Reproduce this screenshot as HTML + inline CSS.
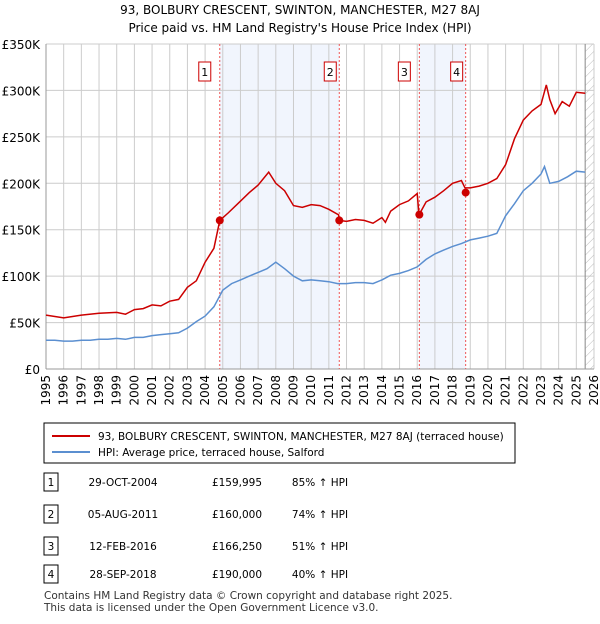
<!DOCTYPE html>
<html><head><meta charset="utf-8"><style>
body{margin:0;background:#fff;font-family:"DejaVu Sans","Liberation Sans",sans-serif;}
</style></head><body>
<svg width="600" height="620" xmlns="http://www.w3.org/2000/svg" font-family="DejaVu Sans, Liberation Sans, sans-serif" id="chart">
<text x="300" y="14" text-anchor="middle" font-size="12">93, BOLBURY CRESCENT, SWINTON, MANCHESTER, M27 8AJ</text>
<text x="300" y="32" text-anchor="middle" font-size="12">Price paid vs. HM Land Registry's House Price Index (HPI)</text>
<g id="plot"></g>
<rect x="44" y="423" width="471" height="40" fill="#fff" stroke="#000" stroke-width="1"/>
<line x1="52" y1="436" x2="90" y2="436" stroke="#cc0000" stroke-width="2"/>
<text x="98" y="440" font-size="10.5">93, BOLBURY CRESCENT, SWINTON, MANCHESTER, M27 8AJ (terraced house)</text>
<line x1="52" y1="452" x2="90" y2="452" stroke="#5b8fd0" stroke-width="2"/>
<text x="98" y="456" font-size="10.5">HPI: Average price, terraced house, Salford</text>
<g id="table" font-size="10.5"></g>
<text x="44" y="599" font-size="10.5" fill="#333">Contains HM Land Registry data © Crown copyright and database right 2025.</text>
<text x="44" y="611" font-size="10.5" fill="#333">This data is licensed under the Open Government Licence v3.0.</text>
</svg>
<script>
const yTicks=[0,50,100,150,200,250,300,350];
const yTickLabels=["£0","£50K","£100K","£150K","£200K","£250K","£300K","£350K"];
const years=[1995,1996,1997,1998,1999,2000,2001,2002,2003,2004,2005,2006,2007,2008,2009,2010,2011,2012,2013,2014,2015,2016,2017,2018,2019,2020,2021,2022,2023,2024,2025,2026];
const hpiT=[1995,1995.5,1996,1996.5,1997,1997.5,1998,1998.5,1999,1999.5,2000,2000.5,2001,2001.5,2002,2002.5,2003,2003.5,2004,2004.5,2005,2005.5,2006,2006.5,2007,2007.5,2008,2008.5,2009,2009.5,2010,2010.5,2011,2011.5,2012,2012.5,2013,2013.5,2014,2014.5,2015,2015.5,2016,2016.5,2017,2017.5,2018,2018.5,2019,2019.5,2020,2020.5,2021,2021.5,2022,2022.5,2023,2023.2,2023.5,2024,2024.5,2025,2025.5];
const hpiV=[31,31,30,30,31,31,32,32,33,32,34,34,36,37,38,39,44,51,57,67,85,92,96,100,104,108,115,108,100,95,96,95,94,92,92,93,93,92,96,101,103,106,110,118,124,128,132,135,139,141,143,146,165,178,192,200,210,218,200,202,207,213,212];
const priceT=[1995,1996,1997,1998,1999,1999.5,2000,2000.5,2001,2001.5,2002,2002.5,2003,2003.5,2004,2004.5,2004.83,2005.3,2005.8,2006.5,2007,2007.6,2008,2008.5,2009,2009.5,2010,2010.5,2011,2011.55,2011.6,2012,2012.5,2013,2013.5,2014,2014.2,2014.5,2015,2015.5,2016,2016.1,2016.5,2017,2017.5,2018,2018.5,2018.7,2019,2019.5,2020,2020.5,2021,2021.5,2022,2022.5,2023,2023.3,2023.5,2023.8,2024.2,2024.6,2025,2025.5];
const priceV=[58,55,58,60,61,59,64,65,69,68,73,75,88,95,115,130,160,168,177,190,198,212,200,192,176,174,177,176,172,166,160,159,161,160,157,163,158,170,177,181,189,166,180,185,192,200,203,195,195,197,200,205,220,248,268,278,285,306,290,275,288,283,298,297];
const saleT=[2004.83,2011.59,2016.12,2018.74];
const saleV=[159.995,160,166.25,190];
const saleDates=["29-OCT-2004","05-AUG-2011","12-FEB-2016","28-SEP-2018"];
const salePrices=["£159,995","£160,000","£166,250","£190,000"];
const saleHpi=["85% ↑ HPI","74% ↑ HPI","51% ↑ HPI","40% ↑ HPI"];
const NS="http://www.w3.org/2000/svg";
const X0=46,X1=594,Y0=369,Y1=44;
const xs=t=>X0+(t-1995)/(2026-1995)*(X1-X0);
const ys=v=>Y0-v/350*(Y0-Y1);
const plot=document.getElementById('plot');
function mk(tag,at,parent){const e=document.createElementNS(NS,tag);for(const k in at)e.setAttribute(k,at[k]);(parent||plot).appendChild(e);return e;}
[[0,1],[2,3]].forEach(([a,b],i)=>{const r=mk('rect',{x:xs(saleT[a]),y:Y1,width:xs(saleT[b])-xs(saleT[a]),height:Y0-Y1,fill:'#eef3fc',opacity:0.8});

});
years.forEach(y=>{const l=mk('line',{x1:xs(y),x2:xs(y),y1:Y1,y2:Y0,stroke:'#cccccc','stroke-width':1});


const t=mk('text',{x:0,y:0,'font-size':12,'text-anchor':'end',transform:`translate(${xs(y)+4},${Y0+6}) rotate(-90)`});
t.textContent=y;

});
yTicks.forEach((v,i)=>{const l=mk('line',{x1:X0,x2:X1,y1:ys(v),y2:ys(v),stroke:'#cccccc','stroke-width':1});


const t=mk('text',{x:X0-6,y:ys(v)+5,'font-size':12,'text-anchor':'end'});
t.textContent=yTickLabels[i];

});
const defs=mk('defs',{});
const pat=mk('pattern',{id:'hatch',width:6,height:6,patternUnits:'userSpaceOnUse',patternTransform:'rotate(45)'},defs);
mk('line',{x1:0,y1:0,x2:0,y2:6,stroke:'#bbb','stroke-width':1},pat);
const hx=xs(2025.5);
const hr=mk('rect',{x:hx,y:Y1,width:X1-hx,height:Y0-Y1,fill:'url(#hatch)'});


mk('line',{x1:hx,x2:hx,y1:Y1,y2:Y0,stroke:'#888','stroke-width':1});
mk('line',{x1:X0,x2:X0,y1:Y1,y2:Y0,stroke:'#999'});
mk('line',{x1:X0,x2:X1,y1:Y0,y2:Y0,stroke:'#999'});
saleT.forEach((t,i)=>{const l=mk('line',{x1:xs(t),x2:xs(t),y1:Y1,y2:Y0,stroke:'#ee5555','stroke-width':1,'stroke-dasharray':'2,2'});


const bx=xs(t)-[9,3,9,3][i]-12;
const r=mk('rect',{x:bx,y:62,width:12,height:19,fill:'#fff',stroke:'#cc0000'});


const tx=mk('text',{x:bx+6,y:76,'font-size':11,'text-anchor':'middle'});
tx.textContent=i+1;

});
function line(T,V,col,name){const d=T.map((t,i)=>(i?'L':'M')+xs(t).toFixed(1)+','+ys(V[i]).toFixed(1)).join('');
const p=mk('path',{d,fill:'none',stroke:col,'stroke-width':1.5});

}
line(hpiT,hpiV,'#5b8fd0','hpi-line');
line(priceT,priceV,'#cc0000','price-line');
saleT.forEach((t,i)=>{const c=mk('circle',{cx:xs(t),cy:ys(saleV[i]),r:4,fill:'#cc0000'});

});
const tb=document.getElementById('table');
const rowY=[482,514,546,574];
rowY.forEach((y,i)=>{const r=mk('rect',{x:44,y:y-9,width:14,height:18,fill:'#fff',stroke:'#000'},tb);


const cells=[[51,String(i+1),'middle'],[123,saleDates[i],'middle'],[237,salePrices[i],'middle'],[320,saleHpi[i],'middle']];
cells.forEach(([x,s,a],j)=>{const t=mk('text',{x,y:y+4,'text-anchor':a},tb);
t.textContent=s;

});});
</script>
</body></html>
